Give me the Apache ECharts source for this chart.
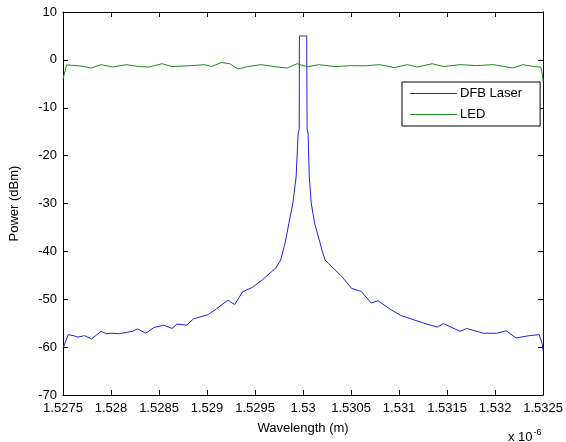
<!DOCTYPE html>
<html>
<head>
<meta charset="utf-8">
<script src="https://cdn.jsdelivr.net/npm/echarts@6/dist/echarts.min.js"></script>
<style>
  html, body { margin: 0; padding: 0; background: #fff; }
  #chart { width: 566px; height: 442px; }
</style>
</head>
<body>
<div id="chart"></div>
<script>
// wavelength in units of 1e-6 m, power in dBm
var dfbWl = [1.5275, 1.527555, 1.527606, 1.527657, 1.527726, 1.527795, 1.527898, 1.527950, 1.528001,
  1.528086, 1.528172, 1.528223, 1.528275, 1.528361,
  1.528447, 1.528549, 1.528635, 1.528686, 1.528789, 1.528858, 1.529012, 1.529098, 1.529218, 1.529287,
  1.529372, 1.529475, 1.529578, 1.529715, 1.529767, 1.529812, 1.529853, 1.529894, 1.529928, 1.529949,
  1.529960, 1.529962, 1.530038, 1.530042, 1.530052, 1.530065, 1.530085, 1.530120, 1.530178, 1.530196,
  1.530229, 1.530264, 1.530401, 1.530504, 1.530607, 1.530710, 1.530779, 1.530916, 1.531019, 1.531155,
  1.531258, 1.531396, 1.531464, 1.531636, 1.531705, 1.531876, 1.532013, 1.532116, 1.532219, 1.532356,
  1.532459, 1.532493, 1.5325];
var dfbPow = [-60.2, -57.4, -57.6, -57.9, -57.6, -58.3, -56.7, -57.2, -57.1,
  -57.2, -56.9, -56.7, -56.2, -57.1,
  -55.9, -55.4, -56.1, -55.2, -55.4, -54.1, -53.2, -52.0, -50.2, -51.1,
  -48.4, -47.5, -45.9, -43.5, -41.8, -38.3, -34.1, -29.9, -24.4, -15.3,
  -14.5, 5, 5, -14.5, -15.3, -24.4, -29.9, -34.1, -38.3, -39.7,
  -41.8, -42.5, -45.2, -47.7, -48.4, -50.8, -50.3, -52.2, -53.4, -54.3,
  -55.0, -55.8, -55.1, -56.7, -56.1, -57.1, -57.1, -56.6, -58.1, -57.6,
  -57.4, -59.5, -60.8];

var ledWl = [1.5275, 1.527538, 1.527675, 1.527795, 1.527898, 1.528017, 1.528155, 1.528292, 1.528395,
  1.528532, 1.528635, 1.528841, 1.528978, 1.529046, 1.529149, 1.529236, 1.529321, 1.529424, 1.529561,
  1.529699, 1.529835, 1.529938, 1.530007, 1.530059, 1.530162, 1.530332, 1.530504, 1.530641, 1.530795,
  1.530950, 1.531087, 1.531190, 1.531345, 1.531464, 1.531636, 1.531808, 1.531979, 1.532185, 1.532288,
  1.532407, 1.532476, 1.532493, 1.5325];
var ledPow = [-4.0, -1.04, -1.25, -1.7, -1.0, -1.5, -1.0, -1.4, -1.5,
  -0.8, -1.4, -1.2, -1.0, -1.4, -0.55, -0.8, -1.9, -1.4, -1.0,
  -1.4, -1.7, -0.8, -1.25, -1.4, -1.0, -1.4, -1.2, -1.25, -1.0,
  -1.6, -1.0, -1.5, -0.8, -1.4, -1.0, -1.2, -1.0, -1.7, -1.0,
  -1.4, -1.5, -3.1, -4.5];

var seriesNames = ["DFB Laser", "LED"];
var xMin = 1.5275, xMax = 1.5325, xStep = 0.0005;
var yMin = -70, yMax = 10, yStep = 10;

function zip(a, b) {
  return a.map(function (v, i) { return [v, b[i]]; });
}

var font = "Liberation Sans, Arial, sans-serif";
var tickFmt = function (v) { return String(parseFloat(v.toFixed(4))); };

var chart = echarts.init(document.getElementById("chart"));
var axisLine = { show: true, onZero: false, lineStyle: { color: "#000", width: 1 } };
var tick = { show: true, inside: true, length: 5, lineStyle: { color: "#000" } };

chart.setOption({
  animation: false,
  backgroundColor: "#fff",
  grid: { left: 58, top: 12, right: 22, bottom: 47 },
  legend: {
    orient: "vertical",
    left: 402,
    top: 82,
    padding: [5, 18, 5, 8],
    itemGap: 8,
    itemWidth: 47,
    itemHeight: 1,
    icon: "rect",
    borderColor: "#000",
    borderWidth: 1,
    backgroundColor: "#fff",
    textStyle: { fontFamily: font, fontSize: 13, color: "#000", padding: [0, 0, 0, -2] },
    data: seriesNames
  },
  xAxis: [{
    type: "value",
    min: xMin, max: xMax, interval: xStep,
    name: "Wavelength (m)",
    nameLocation: "middle",
    nameGap: 27,
    nameTextStyle: { fontFamily: font, fontSize: 13, color: "#000" },
    axisLine: axisLine,
    axisTick: tick,
    splitLine: { show: false },
    axisLabel: { fontFamily: font, fontSize: 13, color: "#000", margin: 7, formatter: tickFmt, hideOverlap: false }
  }, {
    type: "value",
    position: "top",
    min: xMin, max: xMax, interval: xStep,
    axisLine: axisLine,
    axisTick: tick,
    splitLine: { show: false },
    axisLabel: { show: false }
  }],
  yAxis: [{
    type: "value",
    min: yMin, max: yMax, interval: yStep,
    name: "Power (dBm)",
    nameLocation: "middle",
    nameGap: 42,
    nameTextStyle: { fontFamily: font, fontSize: 13, color: "#000" },
    axisLine: axisLine,
    axisTick: tick,
    splitLine: { show: false },
    axisLabel: { fontFamily: font, fontSize: 13, color: "#000", margin: 6 }
  }, {
    type: "value",
    position: "right",
    min: yMin, max: yMax, interval: yStep,
    axisLine: axisLine,
    axisTick: tick,
    splitLine: { show: false },
    axisLabel: { show: false }
  }],
  graphic: [{
    type: "text",
    left: 508,
    top: 428,
    style: {
      text: "x 10{s|-6}",
      font: "13px " + font,
      fill: "#000",
      rich: { s: { fontSize: 9, fontFamily: font, verticalAlign: "top", padding: [0, 0, 10, 1] } }
    }
  }],
  series: [{
    name: seriesNames[0],
    type: "line",
    data: zip(dfbWl, dfbPow),
    symbol: "none",
    lineStyle: { color: "#2020e0", width: 1 },
    itemStyle: { color: "#2020e0" }
  }, {
    name: seriesNames[1],
    type: "line",
    data: zip(ledWl, ledPow),
    symbol: "none",
    lineStyle: { color: "#1a8a1a", width: 1 },
    itemStyle: { color: "#1a8a1a" }
  }]
});
</script>
</body>
</html>
